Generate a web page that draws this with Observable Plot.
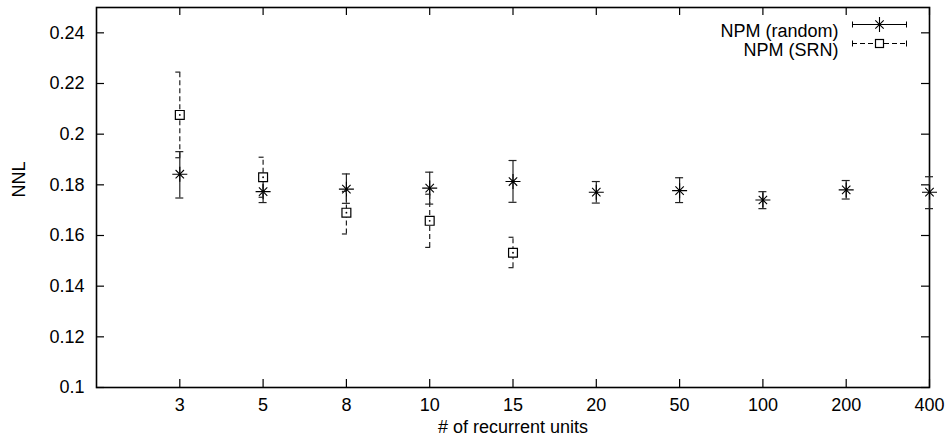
<!DOCTYPE html>
<html><head><meta charset="utf-8">
<script src="https://cdn.jsdelivr.net/npm/d3@7"></script>
<script src="https://cdn.jsdelivr.net/npm/@observablehq/plot@0.6"></script>
<style>
html,body{margin:0;padding:0;background:#fff;}
#chart{position:relative;width:948px;height:447px;}
</style></head><body><div id="chart"></div>
<script>
// ---- data ----
const units = ["3","5","8","10","15","20","50","100","200","400"];
const randomMean = [0.1842,0.1773,0.1783,0.1787,0.1813,0.1771,0.1777,0.1740,0.1780,0.1771];
const randomLow  = [0.1748,0.1730,0.1727,0.1724,0.1731,0.1728,0.1730,0.1706,0.1744,0.1706];
const randomHigh = [0.1931,0.1816,0.1843,0.1850,0.1896,0.1813,0.1828,0.1773,0.1817,0.1832];
const srnUnits = ["3","5","8","10","15"];
const srnMean = [0.2076,0.1830,0.1690,0.1658,0.1532];
const srnLow  = [0.1907,0.1751,0.1606,0.1553,0.1473];
const srnHigh = [0.2245,0.1909,0.1774,0.1763,0.1593];
const yTicks = [0.1,0.12,0.14,0.16,0.18,0.2,0.22,0.24];
const seriesNames = ["NPM (random)","NPM (SRN)"];
const xLabel = "# of recurrent units";
const yLabel = "NNL";

// ---- build tables ----
const randomData = units.map((u,i)=>({i:units.indexOf(u)+1, mean:randomMean[i], low:randomLow[i], high:randomHigh[i]}));
const srnData = srnUnits.map((u,i)=>({i:units.indexOf(u)+1, mean:srnMean[i], low:srnLow[i], high:srnHigh[i]}));
const xTicks = units.map((u,i)=>i+1);

const W=948,H=447,mL=96,mR=19,mT=7,mB=60;
const pw=W-mL-mR, ph=H-mT-mB;
const capHalf = 4/(pw/10);
const dash = "5,3";
const lineCol = "#222";
const fs = 18;
const rPlus = 4.9, rTimes = 3.9;

const chart = Plot.plot({
  width:W, height:H, marginLeft:mL, marginRight:mR, marginTop:mT, marginBottom:mB,
  style:{fontFamily:"'Liberation Sans', Arial, Helvetica, sans-serif", fontSize:fs+"px", color:"#000", background:"#fff", overflow:"visible"},
  x:{domain:[0,10]},
  y:{domain:[0.1,0.25]},
  marks:[
    Plot.axisX(xTicks,{tickSize:0, tickPadding:11, tickFormat:d=>units[d-1], label:null, fontSize:fs}),
    Plot.axisY(yTicks,{tickSize:0, tickPadding:12, tickFormat:d=>String(+d.toFixed(2)), label:null, fontSize:fs}),
    // inward ticks, mirrored
    Plot.tickY(yTicks,{y:d=>d, insetRight:pw-8, stroke:"#000", strokeWidth:1.2}),
    Plot.tickY(yTicks,{y:d=>d, insetLeft:pw-8, stroke:"#000", strokeWidth:1.2}),
    Plot.tickX(xTicks,{x:d=>d, insetTop:ph-8, stroke:"#000", strokeWidth:1.2}),
    Plot.tickX(xTicks,{x:d=>d, insetBottom:ph-8, stroke:"#000", strokeWidth:1.2}),
    Plot.frame({stroke:"#000", strokeWidth:1.6}),
    // random series
    Plot.ruleX(randomData,{x:"i", y1:"low", y2:"high", stroke:lineCol, strokeWidth:1.2}),
    Plot.ruleY(randomData,{y:"high", x1:d=>d.i-capHalf, x2:d=>d.i+capHalf, stroke:lineCol, strokeWidth:1.2}),
    Plot.ruleY(randomData,{y:"low", x1:d=>d.i-capHalf, x2:d=>d.i+capHalf, stroke:lineCol, strokeWidth:1.2}),
    Plot.dot(randomData,{x:"i", y:"mean", symbol:"plus", r:rPlus, stroke:"#000", strokeWidth:1.1}),
    Plot.dot(randomData,{x:"i", y:"mean", symbol:"times", r:rTimes, stroke:"#000", strokeWidth:1.1}),
    Plot.dot(randomData,{x:"i", y:"mean", r:1.3, fill:"#000", stroke:null}),
    // SRN series
    Plot.ruleX(srnData,{x:"i", y1:"low", y2:"high", stroke:lineCol, strokeWidth:1.2, strokeDasharray:dash}),
    Plot.ruleY(srnData,{y:"high", x1:d=>d.i-capHalf, x2:d=>d.i+capHalf, stroke:lineCol, strokeWidth:1.2, strokeDasharray:dash}),
    Plot.ruleY(srnData,{y:"low", x1:d=>d.i-capHalf, x2:d=>d.i+capHalf, stroke:lineCol, strokeWidth:1.2, strokeDasharray:dash}),
    Plot.dot(srnData,{x:"i", y:"mean", symbol:"square", r:5.0, fill:"#fff", stroke:"#000", strokeWidth:1.2}),
    Plot.dot(srnData,{x:"i", y:"mean", r:0.9, fill:"#000", stroke:null}),
    // axis titles
    Plot.text([yLabel],{frameAnchor:"left", dx:-77, rotate:-90, fontSize:fs, fill:"#000"}),
    Plot.text([xLabel],{frameAnchor:"bottom", dy:45, fontSize:fs, fill:"#000"}),
    // legend text
    Plot.text([seriesNames[0]],{frameAnchor:"top-right", dx:-91, dy:17, textAnchor:"end", fontSize:fs, fill:"#000"}),
    Plot.text([seriesNames[1]],{frameAnchor:"top-right", dx:-91, dy:36, textAnchor:"end", fontSize:fs, fill:"#000"})
  ]
});
document.getElementById("chart").appendChild(chart);

// legend samples
const svg = d3.select(chart);
const lg = svg.append("g").attr("stroke","#000").attr("fill","none");
const lx1 = W-mR-77, lx2 = W-mR-22, lxc=(lx1+lx2)/2;
[[mT+17,null],[mT+36,dash]].forEach(([yy,da],k)=>{
  const y = yy+0.5;
  lg.append("line").attr("x1",lx1).attr("x2",lx2).attr("y1",y).attr("y2",y).attr("stroke-width",1.1).attr("stroke-dasharray",da);
  lg.append("line").attr("x1",lx1+0.5).attr("x2",lx1+0.5).attr("y1",y-3).attr("y2",y+3);
  lg.append("line").attr("x1",lx2-0.5).attr("x2",lx2-0.5).attr("y1",y-3).attr("y2",y+3);
  if(k===0){
    lg.append("path").attr("d",d3.symbol(d3.symbolPlus, Math.PI*rPlus*rPlus)()).attr("transform",`translate(${lxc},${y})`).attr("stroke-width",1.1);
    lg.append("path").attr("d",d3.symbol(d3.symbolTimes, Math.PI*rTimes*rTimes)()).attr("transform",`translate(${lxc},${y})`).attr("stroke-width",1.1);
  } else {
    lg.append("rect").attr("x",lxc-4).attr("y",y-4).attr("width",8).attr("height",8).attr("fill","#fff").attr("stroke-width",1.2);
  }
});
</script></body></html>
